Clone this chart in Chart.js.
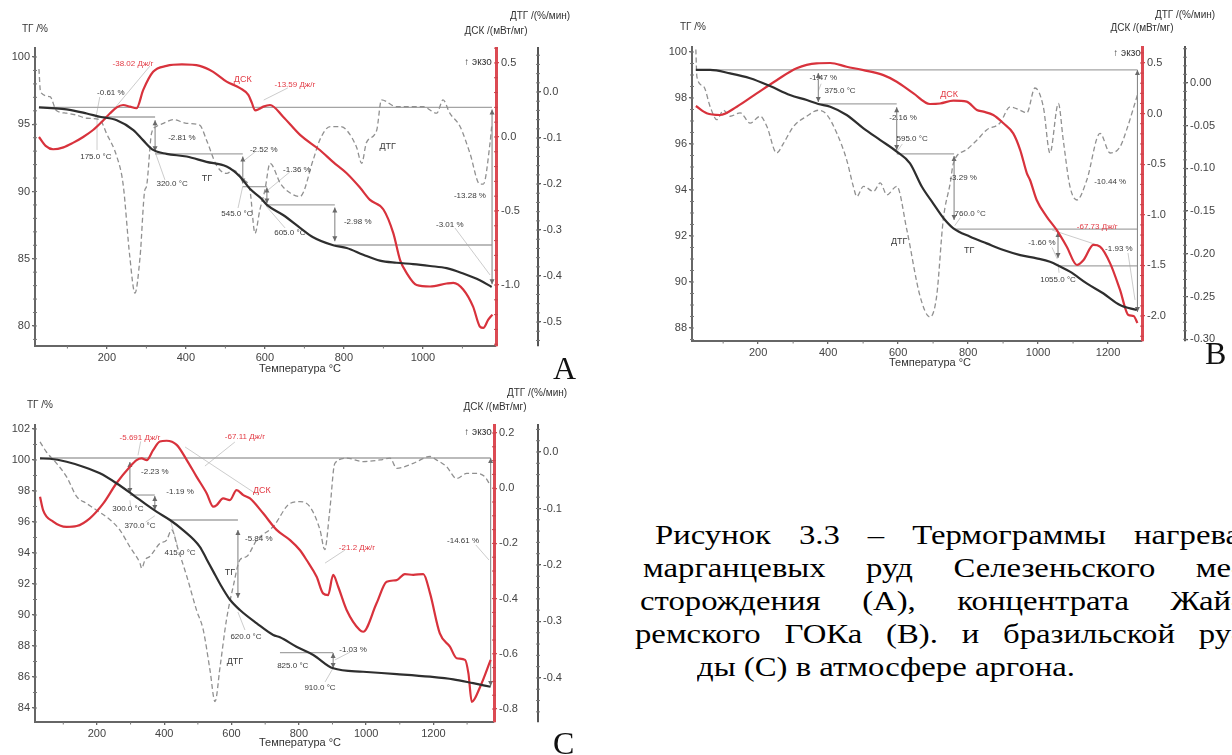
<!DOCTYPE html>
<html lang="ru"><head><meta charset="utf-8">
<script src="https://cdn.jsdelivr.net/npm/chart.js@4.4.1/dist/chart.umd.min.js"></script>
<style>
html,body{margin:0;padding:0;background:#fff}
body{width:1232px;height:755px;overflow:hidden;position:relative}
canvas.pn{position:absolute}
.lt{position:absolute;font-family:"Liberation Serif","Times New Roman",serif;font-size:32px;line-height:32px;color:#111}
.cap{position:absolute;font-family:"Liberation Serif","Times New Roman",serif;font-size:28px;line-height:33px;white-space:nowrap;transform-origin:0 0;color:#000}
.just{text-align:justify;text-align-last:justify}
</style></head><body>
<canvas id="cA" class="pn" style="left:0;top:0" width="585" height="390"></canvas>
<canvas id="cB" class="pn" style="left:630px;top:0" width="602" height="370"></canvas>
<canvas id="cC" class="pn" style="left:0;top:380px" width="585" height="375"></canvas>
<div class="lt" style="left:553px;top:352px">A</div>
<div class="lt" style="left:1205px;top:337px">B</div>
<div class="lt" style="left:553px;top:727px">C</div>
<div id="cap1" class="cap just" style="left:655px;top:518px">Рисунок 3.3 – Термограммы нагрева</div>
<div id="cap2" class="cap just" style="left:643px;top:551px">марганцевых руд  Селезеньского  ме-</div>
<div id="cap3" class="cap just" style="left:640px;top:584px">сторождения (А),  концентрата Жай-</div>
<div id="cap4" class="cap just" style="left:635px;top:617px">ремского ГОКа  (В). и бразильской ру-</div>
<div id="cap5" class="cap" style="left:697px;top:650px">ды (С) в атмосфере аргона.</div>
<script>
// ---------- Panel A data ----------
const tgTempA = [28,60,98,149,182,225,267,292,317,351,402,452,503,537,562,590,605,646,689,722,773,807,849,891,933,975,1018,1060,1102,1144,1174];
const tgA = [96.26,96.2,96.11,95.8,95.56,95.3,94.57,93.8,93.09,92.8,92.6,92.2,91.85,91.1,90.2,89.5,89.0,88.25,87.3,86.6,86.0,85.8,85.3,84.86,84.7,84.6,84.46,84.3,83.9,83.4,82.9];
const dscTempA = [28,45,64,90,114,140,165,190,208,225,241,258,275,292,317,351,390,435,469,503,537,558,567,575,586,596,613,646,689,739,773,807,840,866,900,925,942,959,984,1018,1060,1077,1102,1127,1144,1153,1165,1176];
const dscA = [0.0,-0.06,-0.083,-0.07,-0.04,0.0,0.047,0.11,0.16,0.2,0.216,0.205,0.194,0.318,0.44,0.48,0.49,0.48,0.44,0.374,0.33,0.284,0.23,0.18,0.19,0.205,0.216,0.137,0.014,-0.088,-0.17,-0.245,-0.34,-0.425,-0.49,-0.65,-0.83,-0.92,-1.0,-1.01,-0.99,-0.985,-1.03,-1.146,-1.28,-1.29,-1.236,-1.2];
const dtgTempA = [28,32,56,72,98,123,149,182,199,225,241,258,271,284,296,300,313,325,343,368,402,435,452,478,503,520,545,562,575,587,600,613,640,665,689,722,739,765,790,807,832,845,857,883,895,933,975,1001,1035,1051,1068,1094,1119,1144,1153,1170,1174];
const dtgA = [0.05,0.0,-0.01,-0.04,-0.046,-0.05,-0.057,-0.06,-0.09,-0.14,-0.2,-0.358,-0.437,-0.358,-0.213,-0.206,-0.09,-0.075,-0.068,-0.06,-0.068,-0.072,-0.104,-0.16,-0.177,-0.17,-0.19,-0.213,-0.307,-0.257,-0.213,-0.155,-0.2,-0.22,-0.227,-0.148,-0.104,-0.075,-0.075,-0.083,-0.12,-0.155,-0.11,-0.083,-0.017,-0.032,-0.032,-0.032,-0.046,-0.017,-0.046,-0.075,-0.133,-0.2,-0.2,-0.11,-0.075];
const xTicksA = [200,400,600,800,1000];
const tgTicksA = [80,85,90,95,100];
const dscTicksA = [-1.0,-0.5,0.0,0.5];
const dtgTicksA = [-0.5,-0.4,-0.3,-0.2,-0.1,0.0];

// ---------- Panel B data ----------
const tgTempB = [22,63,120,177,234,291,339,372,406,453,501,549,596,634,668,701,730,758,806,853,901,949,996,1034,1063,1091,1139,1187,1234,1282];
const tgB = [99.22,99.22,99.07,98.86,98.52,98.13,97.91,97.74,97.62,97.26,96.68,96.17,95.67,95.16,94.14,93.4,92.77,92.33,91.97,91.68,91.39,91.17,91.03,90.88,90.67,90.45,89.94,89.5,89.0,88.78];
const dscTempB = [22,53,91,139,196,253,310,367,406,453,501,558,596,644,691,720,758,796,825,844,872,901,929,949,968,977,996,1025,1053,1082,1111,1130,1158,1177,1206,1234,1258,1273,1284];
const dscB = [0.075,0.003,-0.014,0.068,0.2,0.33,0.448,0.497,0.5,0.463,0.43,0.38,0.315,0.2,0.095,0.1,0.128,0.118,0.035,0.019,-0.014,-0.096,-0.195,-0.36,-0.59,-0.656,-0.854,-1.02,-1.15,-1.315,-1.496,-1.447,-1.298,-1.315,-1.48,-1.74,-1.99,-2.0,-2.07];
const dtgTempB = [22,25,44,63,82,101,120,149,177,206,225,253,272,301,339,372,396,425,453,472,482,501,530,549,568,596,625,663,691,710,729,749,758,796,825,853,891,920,949,968,991,1015,1034,1058,1072,1091,1111,1139,1177,1206,1234,1253,1284];
const dtgB = [0.039,0.007,-0.004,-0.028,-0.043,-0.032,-0.039,-0.035,-0.047,-0.039,-0.051,-0.082,-0.071,-0.051,-0.039,-0.032,-0.037,-0.059,-0.09,-0.121,-0.133,-0.121,-0.127,-0.117,-0.131,-0.121,-0.172,-0.25,-0.274,-0.25,-0.16,-0.117,-0.094,-0.078,-0.067,-0.055,-0.047,-0.028,-0.032,-0.035,-0.006,-0.028,-0.082,-0.024,-0.067,-0.121,-0.137,-0.114,-0.059,-0.082,-0.075,-0.055,-0.014];
const xTicksB = [200,400,600,800,1000,1200];
const tgTicksB = [88,90,92,94,96,98,100];
const dscTicksB = [-2.0,-1.5,-1.0,-0.5,0.0,0.5];
const dtgTicksB = [-0.30,-0.25,-0.20,-0.15,-0.10,-0.05,0.00];

// ---------- Panel C data ----------
const tgTempC = [31,60,110,159,209,258,308,348,377,417,456,506,526,546,566,595,625,675,724,744,793,843,902,991,1091,1190,1259,1318,1370];
const tgC = [100.1,100.08,99.89,99.57,99.14,98.5,97.74,97.1,96.67,96.13,95.48,94.4,93.6,92.8,92.0,91.0,90.32,89.46,88.71,88.56,87.95,87.42,86.56,86.34,86.19,86.02,85.85,85.6,85.37];
const dscTempC = [31,40,70,110,140,179,219,258,298,318,333,348,367,387,407,437,467,496,526,546,556,575,595,615,635,655,694,734,774,803,823,853,872,887,902,917,942,981,991,1031,1061,1091,1115,1140,1170,1190,1219,1249,1269,1294,1304,1314,1339,1370];
const dscC = [-0.031,-0.079,-0.121,-0.14,-0.137,-0.109,-0.055,0.018,0.078,0.102,0.108,0.102,0.138,0.169,0.172,0.157,0.102,0.042,-0.018,-0.067,-0.061,-0.037,-0.043,-0.007,-0.025,-0.037,-0.091,-0.151,-0.188,-0.224,-0.26,-0.321,-0.381,-0.387,-0.314,-0.357,-0.441,-0.514,-0.52,-0.417,-0.339,-0.333,-0.311,-0.314,-0.311,-0.381,-0.526,-0.574,-0.616,-0.622,-0.671,-0.774,-0.719,-0.622];
const dtgTempC = [31,50,80,110,140,169,199,239,268,298,328,333,343,357,387,407,422,440,467,496,516,536,551,566,585,605,625,645,675,724,774,803,833,863,877,892,907,942,991,1041,1071,1091,1140,1190,1209,1239,1269,1299,1328,1353,1368];
const dtgC = [0.018,0.0,-0.02,-0.044,-0.079,-0.091,-0.103,-0.12,-0.138,-0.168,-0.197,-0.206,-0.191,-0.185,-0.162,-0.156,-0.138,-0.17,-0.22,-0.28,-0.315,-0.386,-0.442,-0.38,-0.297,-0.238,-0.191,-0.185,-0.156,-0.132,-0.091,-0.088,-0.097,-0.138,-0.173,-0.103,-0.02,-0.011,-0.017,-0.014,-0.011,-0.029,-0.02,-0.008,-0.014,-0.026,-0.047,-0.038,-0.038,-0.044,-0.058];
const xTicksC = [200,400,600,800,1000,1200];
const tgTicksC = [84,86,88,90,92,94,96,98,100,102];
const dscTicksC = [-0.8,-0.6,-0.4,-0.2,0.0,0.2];
const dtgTicksC = [-0.4,-0.3,-0.2,-0.1,0.0];

// ---------- Step annotations (temperature, TG %) ----------
const stepLevelsA = [[28,1175,96.26],[175,322,95.54],[322,544,92.79],[544,605,90.36],[605,777,89.0],[777,1175,86.02]];
const stepArrowsA = [[322,95.3,93.0],[544,92.6,90.6],[605,90.3,89.1],[777,88.8,86.3],[1175,96.1,83.1]];
const leadersA = [[182,97.03,172,95.46],[175,95.46,175,93.09],[195,95.32,309,99.33],[658,97.7,597,96.8],[322,92.94,347,90.86],[544,90.4,532,88.77],[603,88.92,651,87.29],[1081,87.29,1170,83.79],[663,91.45,608,90.11],[575,92.94,549,92.34]];
const notesA = [[210,97.32,'-0.61 %'],[172,92.57,'175.0 °C'],[390,93.98,'-2.81 %'],[365,90.56,'320.0 °C'],[597,93.09,'-2.52 %'],[681,91.6,'-1.36 %'],[529,88.33,'545.0 °C'],[663,86.91,'605.0 °C'],[835,87.73,'-2.98 %'],[1068,87.5,'-3.01 %'],[1119,89.67,'-13.28 %'],[453,91.0,'ТГ'],[911,93.38,'ДТГ'],[544,98.29,'ДСК','r'],[266,99.48,'-38.02 Дж/г','r'],[676,97.92,'-13.59 Дж/г','r']];

const stepLevelsB = [[22,1284,99.22],[372,596,97.74],[596,760,95.57],[760,1284,92.3],[1057,1284,90.7]];
const stepArrowsB = [[372,99.09,97.83],[596,97.6,95.74],[760,95.48,92.7],[1057,92.17,91.04],[1284,99.22,88.7]];
const leadersB = [[1040,92.26,1177,91.57],[1257,91.26,1277,89.22],[380,98.62,372,98.3],[612,96.0,598,95.7],[778,92.8,762,92.45],[1040,91.5,1055,91.0],[1060,90.4,1057,90.8]];
const notesB = [[386,98.87,'-1.47 %'],[434,98.3,'375.0 °C'],[614,97.13,'-2.16 %'],[640,96.22,'595.0 °C'],[786,94.52,'-3.29 %'],[806,92.96,'760.0 °C'],[1011,91.7,'-1.60 %'],[1169,92.39,'-67.73 Дж/г','r'],[1231,91.43,'-1.93 %'],[1057,90.1,'1055.0 °C'],[1206,94.35,'-10.44 %'],[746,98.17,'ДСК','r'],[603,91.74,'ДТГ'],[803,91.35,'ТГ']];

const stepLevelsC = [[31,1370,100.13],[298,372,97.74],[417,619,96.13],[744,902,87.57]];
const stepArrowsC = [[298,99.87,97.87],[372,97.68,96.77],[619,95.48,91.1],[902,87.55,86.58],[1370,100.13,85.42]];
const leadersC = [[462,100.84,678,97.74],[610,101.16,521,99.61],[937,94.19,878,93.35],[1326,94.52,1365,93.55],[619,90.19,640,89.03],[902,86.58,878,85.68],[907,87.1,952,87.6],[330,101.2,322,100.3],[298,97.4,300,97.0],[372,96.4,345,96.0],[420,96.0,440,94.4]];
const notesC = [[328,101.42,'-5.691 Дж/г','r'],[640,101.48,'-67.11 Дж/г','r'],[372,99.23,'-2.23 %'],[447,97.94,'-1.19 %'],[292,96.84,'300.0 °C'],[328,95.74,'370.0 °C'],[447,94.0,'415.0 °C'],[690,98.0,'ДСК','r'],[681,94.9,'-5.84 %'],[595,92.77,'ТГ'],[973,94.32,'-21.2 Дж/г','r'],[1288,94.77,'-14.61 %'],[643,88.58,'620.0 °C'],[610,87.03,'ДТГ'],[782,86.71,'825.0 °C'],[961,87.74,'-1.03 %'],[863,85.29,'910.0 °C']];

const RED = '#d8323c';
const PANELS = {
  cA:{tgT:tgTempA,tg:tgA,dscT:dscTempA,dsc:dscA,dtgT:dtgTempA,dtg:dtgA,
      xTicks:xTicksA,tgTicks:tgTicksA,dscTicks:dscTicksA,dtgTicks:dtgTicksA,
      xMin:18,xMax:1185,tgMin:78.51,tgMax:100.67,dscMin:-1.412,dscMax:0.601,dtgMin:-0.552,dtgMax:0.0957,
      top:48,xH:44,yW:35,dscW:42,dtgW:47,dscDec:1,dtgDec:1,
      minor:{x:[100,300,500,700,900,1100],y:1,yDsc:0.1,yDtg:0.02},
      hl:stepLevelsA,vl:stepArrowsA,lead:leadersA,notes:notesA,
      titles:[['ТГ /%',35,29,10],['ДТГ /(%/мин)',540,16,10],['ДСК /(мВт/мг)',496,31,10],['↑ экзо',478,62,10],['Температура °C',300,369,11]]},
  cB:{tgT:tgTempB,tg:tgB,dscT:dscTempB,dsc:dscB,dtgT:dtgTempB,dtg:dtgB,
      xTicks:xTicksB,tgTicks:tgTicksB,dscTicks:dscTicksB,dtgTicks:dtgTicksB,
      xMin:11,xMax:1297,tgMin:87.435,tgMax:100.217,dscMin:-2.247,dscMax:0.658,dtgMin:-0.302,dtgMax:0.042,
      top:47,xH:29,yW:62,dscW:43,dtgW:47,dscDec:1,dtgDec:2,
      minor:{x:[100,300,500,700,900,1100],y:0.5,yDsc:0.1,yDtg:0.01},
      hl:stepLevelsB,vl:stepArrowsB,lead:leadersB,notes:notesB,
      titles:[['ТГ /%',63,27,10],['ДТГ /(%/мин)',555,15,10],['ДСК /(мВт/мг)',512,28,10],['↑ экзо',497,53,10],['Температура °C',300,363,11]]},
  cC:{tgT:tgTempC,tg:tgC,dscT:dscTempC,dsc:dscC,dtgT:dtgTempC,dtg:dtgC,
      xTicks:xTicksC,tgTicks:tgTicksC,dscTicks:dscTicksC,dtgTicks:dtgTicksC,
      xMin:16,xMax:1380,tgMin:83.097,tgMax:102.258,dscMin:-0.847,dscMax:0.229,dtgMin:-0.478,dtgMax:0.0478,
      top:45,xH:33,yW:35,dscW:44,dtgW:47,dscDec:1,dtgDec:1,
      minor:{x:[100,300,500,700,900,1100,1300],y:1,yDsc:0.05,yDtg:0.02},
      hl:stepLevelsC,vl:stepArrowsC,lead:leadersC,notes:notesC,
      titles:[['ТГ /%',40,25,10],['ДТГ /(%/мин)',537,13,10],['ДСК /(мВт/мг)',495,27,10],['↑ экзо',478,52,10],['Температура °C',300,363,11]]}
};

const FONT = '"Liberation Sans", Arial, sans-serif';
Chart.defaults.font.family = FONT;

function pts(T,V){ return T.map((t,i)=>({x:t,y:V[i]})); }
function fixTicks(vals){ return s => { s.ticks = vals.map(v=>({value:v})); }; }

function arrowHead(ctx,x,y,dir){
  ctx.beginPath(); ctx.moveTo(x,y); ctx.lineTo(x-2.5,y-dir*5); ctx.lineTo(x+2.5,y-dir*5); ctx.closePath(); ctx.fill();
}

const annot = {
  id:'annot',
  beforeDatasetsDraw(chart){
    const P = PANELS[chart.canvas.id]; const ctx = chart.ctx;
    const X=v=>chart.scales.x.getPixelForValue(v), Y=v=>chart.scales.y.getPixelForValue(v);
    ctx.save();
    ctx.strokeStyle='#c6c6c6'; ctx.lineWidth=0.9;
    P.lead.forEach(([t1,v1,t2,v2])=>{ctx.beginPath();ctx.moveTo(X(t1),Y(v1));ctx.lineTo(X(t2),Y(v2));ctx.stroke();});
    ctx.strokeStyle='#a4a4a4'; ctx.lineWidth=1.3;
    P.hl.forEach(([t1,t2,v])=>{ctx.beginPath();ctx.moveTo(X(t1),Y(v));ctx.lineTo(X(t2),Y(v));ctx.stroke();});
    ctx.strokeStyle='#8a8a8a'; ctx.fillStyle='#6a6a6a'; ctx.lineWidth=1.1;
    P.vl.forEach(([t,v1,v2])=>{const x=X(t),y1=Y(v1),y2=Y(v2);ctx.beginPath();ctx.moveTo(x,y1);ctx.lineTo(x,y2);ctx.stroke();arrowHead(ctx,x,y1,-1);arrowHead(ctx,x,y2,1);});
    ctx.restore();
  },
  afterDatasetsDraw(chart){
    const P = PANELS[chart.canvas.id]; const ctx = chart.ctx;
    const X=v=>chart.scales.x.getPixelForValue(v), Y=v=>chart.scales.y.getPixelForValue(v);
    ctx.save(); ctx.textAlign='center'; ctx.textBaseline='middle';
    P.notes.forEach(([t,v,txt,c])=>{
      const big = (txt==='ТГ'||txt==='ДТГ'||txt==='ДСК');
      ctx.font=(big?'9px ':'8px ')+FONT;
      ctx.fillStyle = c==='r' ? '#e23a44' : '#3a3a3a';
      ctx.fillText(txt,X(t),Y(v));
    });
    ctx.restore();
  },
  afterDraw(chart){
    const P = PANELS[chart.canvas.id]; const ctx = chart.ctx; const ca = chart.chartArea;
    ctx.save();
    ctx.fillStyle='#333'; ctx.textAlign='center'; ctx.textBaseline='middle';
    P.titles.forEach(([txt,x,y,s])=>{ctx.font=s+'px '+FONT; ctx.fillText(txt,x,y);});
    ctx.strokeStyle='#777'; ctx.lineWidth=1;
    const xs = chart.scales.x;
    P.minor.x.forEach(v=>{const px=xs.getPixelForValue(v);ctx.beginPath();ctx.moveTo(px,ca.bottom);ctx.lineTo(px,ca.bottom+2.5);ctx.stroke();});
    [['y',-1],['yDsc',1],['yDtg',1]].forEach(([id,dir])=>{
      const s = chart.scales[id]; const step = P.minor[id];
      const x0 = id==='y' ? s.right : s.left;
      ctx.strokeStyle = id==='yDsc' ? '#c9444c' : '#777';
      for(let v=Math.ceil(s.min/step)*step; v<=s.max+1e-9; v+=step){
        const py = s.getPixelForValue(v);
        ctx.beginPath(); ctx.moveTo(x0-2,py); ctx.lineTo(x0+2,py); ctx.stroke();
      }
    });
    ctx.restore();
  }
};

function makeChart(id){
  const P = PANELS[id];
  const tickFont = {size:11, family:FONT};
  const common = (min,max,ticks,fmt)=>({min,max,afterBuildTicks:fixTicks(ticks),
    ticks:{color:'#444',font:tickFont,autoSkip:false,maxRotation:0,padding:2,callback:fmt}});
  return new Chart(document.getElementById(id),{
    type:'line',
    data:{datasets:[
      {data:pts(P.tgT,P.tg),yAxisID:'y',borderColor:'#2e2e2e',borderWidth:2.2,pointRadius:0,cubicInterpolationMode:'monotone',fill:false},
      {data:pts(P.dscT,P.dsc),yAxisID:'yDsc',borderColor:RED,borderWidth:2.2,pointRadius:0,cubicInterpolationMode:'monotone',fill:false},
      {data:pts(P.dtgT,P.dtg),yAxisID:'yDtg',borderColor:'#909090',borderWidth:1.3,borderDash:[5,3],pointRadius:0,cubicInterpolationMode:'monotone',fill:false}
    ]},
    options:{
      responsive:false,animation:false,events:[],
      layout:{padding:{top:P.top,left:0,right:0,bottom:0}},
      plugins:{legend:{display:false},tooltip:{enabled:false}},
      scales:{
        x:Object.assign(common(P.xMin,P.xMax,P.xTicks,v=>String(v)),{type:'linear',
          afterFit:s=>{s.height=P.xH;},
          grid:{drawOnChartArea:false,tickLength:3,color:'#666',lineWidth:1.3},border:{color:'#666',width:2}}),
        y:Object.assign(common(P.tgMin,P.tgMax,P.tgTicks,v=>String(v)),{type:'linear',position:'left',
          afterFit:s=>{s.width=P.yW;},
          grid:{drawOnChartArea:false,tickLength:3,color:'#666',lineWidth:1.3},border:{color:'#666',width:2}}),
        yDsc:Object.assign(common(P.dscMin,P.dscMax,P.dscTicks,v=>v.toFixed(P.dscDec)),{type:'linear',position:'right',
          afterFit:s=>{s.width=P.dscW;},
          grid:{drawOnChartArea:false,tickLength:3,color:'#d9464f',lineWidth:1.3},border:{color:'#dc4a53',width:3}}),
        yDtg:Object.assign(common(P.dtgMin,P.dtgMax,P.dtgTicks,v=>v.toFixed(P.dtgDec)),{type:'linear',position:'right',
          afterFit:s=>{s.width=P.dtgW;},
          grid:{drawOnChartArea:false,tickLength:3,color:'#555',lineWidth:1.3},border:{color:'#555',width:2}})
      }
    },
    plugins:[annot]
  });
}
makeChart('cA'); makeChart('cB'); makeChart('cC');

// caption sizing: scale horizontally so the last line matches the picture width
(function(){
  const last = document.getElementById('cap5');
  const k = 378 / last.getBoundingClientRect().width;
  const rights = {cap1:1240, cap2:1242, cap3:1242, cap4:1242};
  document.querySelectorAll('.cap').forEach(el=>{
    el.style.transform = 'scaleX('+k+')';
    if(rights[el.id]){ el.style.width = ((rights[el.id]-parseFloat(el.style.left))/k)+'px'; }
  });
})();
</script>
</body></html>
